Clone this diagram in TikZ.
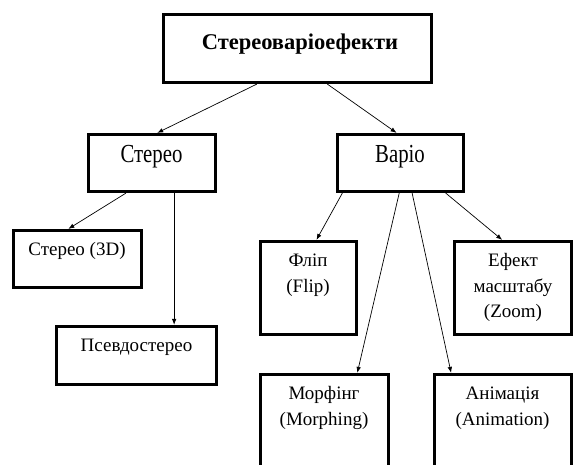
\documentclass[tikz,border=0pt]{standalone}
\usepackage{fontspec}
\setmainfont{Liberation Serif}
\newfontfamily\narrowserif{Liberation Serif}[FakeStretch=0.8]
\usetikzlibrary{arrows.meta, calc}

\begin{document}
\begin{tikzpicture}[x=1pt, y=-1pt,
    box/.style={draw, line width=3.2pt, inner sep=0pt},
    arr/.style={-{Latex[length=6pt, width=4.5pt]}, line width=0.7pt},
    lbl/.style={anchor=base, align=center, inner sep=0pt,
                font=\fontsize{19}{25.5}\selectfont}]
  \useasboundingbox (0,0) rectangle (574,465);
  \clip (0,0) rectangle (574,465);
  % boxes (centre line of the frame, canvas px)
  \node[box, minimum width=268pt, minimum height=68pt] (top)    at (297.5,48.5) {};
  \node[box, minimum width=127pt, minimum height=57pt] (stereo) at (152,163) {};
  \node[box, minimum width=126pt, minimum height=57pt] (vario)  at (400.5,163) {};
  \node[box, minimum width=128pt, minimum height=57pt] (st3d)   at (77.5,259) {};
  \node[box, minimum width=160pt, minimum height=58pt] (pseudo) at (136.5,355.5) {};
  \node[box, minimum width=96pt,  minimum height=93pt] (flip)   at (308.5,288) {};
  \node[box, minimum width=117pt, minimum height=93pt] (zoom)   at (513,288) {};
  \node[box, minimum width=128pt, minimum height=106pt] (morph) at (324.5,427.5) {};
  \node[box, minimum width=137pt, minimum height=106pt] (anim)  at (503,427.5) {};
  % labels (anchored at the baseline of the last line)
  \node[lbl, font=\bfseries\fontsize{22.5}{26}\selectfont] (topl) at (300,50) {Стереоваріоефекти};
  \node[lbl, font=\narrowserif\fontsize{26}{30}\selectfont] (stereol) at (151.5,163) {Стерео};
  \node[lbl, font=\narrowserif\fontsize{26}{30}\selectfont] (variol) at (400,163) {Варіо};
  \node[lbl] (st3dl)   at (77,256)    {Стерео (3D)};
  \node[lbl] (pseudol) at (136.5,352) {Псевдостерео};
  \node[lbl] (flipl)   at (308,292.5)   {Фліп\\(Flip)};
  \node[lbl] (zooml)   at (513,318)   {Ефект\\масштабу\\(Zoom)};
  \node[lbl] (morphl)  at (324,425.5)   {Морфінг\\(Morphing)};
  \node[lbl] (animl)   at (502.5,425.5) {Анімація\\(Animation)};
  % connectors
  \draw[arr] ($(top.south west)!0.35!(top.south east)$) -- ($(stereo.north west)!0.54!(stereo.north east)$);
  \draw[arr] ($(top.south west)!0.61!(top.south east)$) -- ($(vario.north west)!0.47!(vario.north east)$);
  \draw[arr] ($(stereo.south west)!0.30!(stereo.south east)$) -- ($(st3d.north west)!0.43!(st3d.north east)$);
  \draw[arr] ($(stereo.south west)!0.67!(stereo.south east)$) coordinate (down) -- (down |- pseudo.north);
  \draw[arr] ($(vario.south west)!0.05!(vario.south east)$) -- ($(flip.north west)!0.58!(flip.north east)$);
  \draw[arr] ($(vario.south west)!0.49!(vario.south east)$) -- ($(morph.north west)!0.75!(morph.north east)$);
  \draw[arr] ($(vario.south west)!0.59!(vario.south east)$) -- ($(anim.north west)!0.13!(anim.north east)$);
  \draw[arr] ($(vario.south west)!0.85!(vario.south east)$) -- ($(zoom.north west)!0.41!(zoom.north east)$);
\end{tikzpicture}
\end{document}
